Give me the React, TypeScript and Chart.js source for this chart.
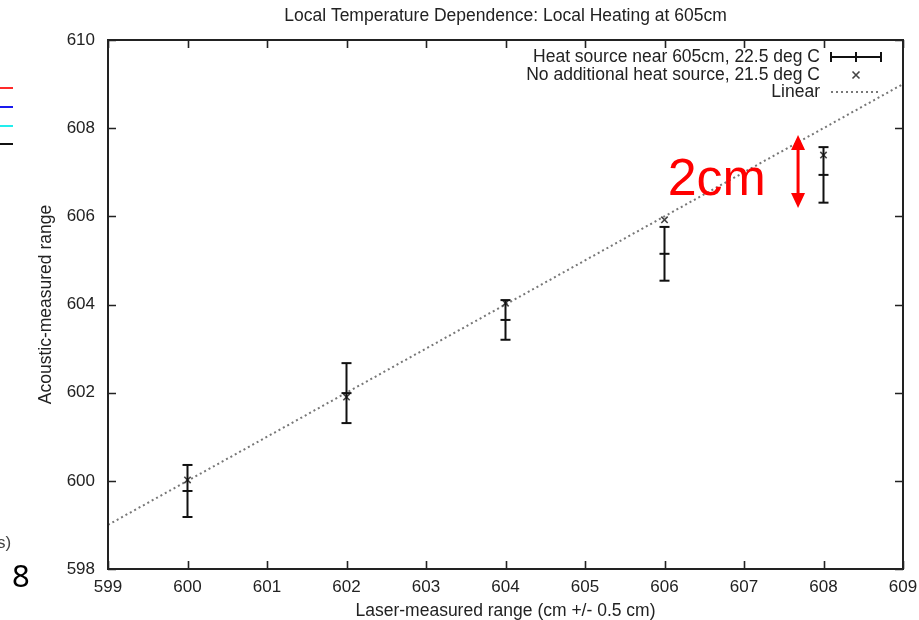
import { useEffect, useRef } from "react";
import { Chart, registerables } from "chart.js";

Chart.register(...registerables);

const chartTitle = "Local Temperature Dependence: Local Heating at 605cm";
const xAxisTitle = "Laser-measured range (cm +/- 0.5 cm)";
const yAxisTitle = "Acoustic-measured range";

const xTicks = [599, 600, 601, 602, 603, 604, 605, 606, 607, 608, 609];
const yTicks = [598, 600, 602, 604, 606, 608, 610];

const positions = [600, 602, 604, 606, 608];
const heatedValues = [599.77, 601.99, 603.65, 605.15, 606.94];
const heatedErrors = [0.59, 0.68, 0.45, 0.61, 0.63];
const ambientValues = [600.02, 601.9, 604.03, 605.92, 607.39];
const linearX = [599, 609];
const linearY = [599, 609];

const legendLabels = [
  "Heat source near 605cm, 22.5 deg C",
  "No additional heat source, 21.5 deg C",
  "Linear",
];

const noteText = "2cm";
const noteTextAt = [606.04, 606.48];
const noteArrowX = 607.68;
const noteArrowRange = [606.19, 607.845];

const FONT = "'Liberation Sans', Arial, Helvetica, sans-serif";
const INK = "#222";

const framePlugin = {
  id: "gnuFrame",
  afterDraw(chart: any) {
    const { ctx, chartArea: a, scales } = chart;
    const x = scales.x;
    const y = scales.y;
    ctx.save();
    // inward ticks
    ctx.strokeStyle = INK;
    ctx.lineWidth = 1.6;
    ctx.beginPath();
    for (const v of xTicks) {
      const px = Math.round(x.getPixelForValue(v)) + 0.5;
      ctx.moveTo(px, a.bottom);
      ctx.lineTo(px, a.bottom - 8);
      ctx.moveTo(px, a.top);
      ctx.lineTo(px, a.top + 8);
    }
    for (const v of yTicks) {
      const py = Math.round(y.getPixelForValue(v)) + 0.5;
      ctx.moveTo(a.left, py);
      ctx.lineTo(a.left + 8, py);
      ctx.moveTo(a.right, py);
      ctx.lineTo(a.right - 8, py);
    }
    ctx.stroke();
    ctx.lineWidth = 2;
    ctx.strokeRect(a.left, a.top, a.right - a.left, a.bottom - a.top);

    // legend (gnuplot style: text right-aligned, sample on the right)
    const ds = chart.data.datasets;
    const textRight = a.right - 83;
    const s0 = a.right - 72;
    const s1 = a.right - 22;
    const sm = (s0 + s1) / 2;
    const rows = [a.top + 17, a.top + 35, a.top + 52];
    ctx.font = `17.5px ${FONT}`;
    ctx.fillStyle = INK;
    ctx.textAlign = "right";
    ctx.textBaseline = "middle";
    legendLabels.forEach((t, i) => ctx.fillText(t, textRight, rows[i]));
    // errorbar sample
    ctx.strokeStyle = ds[0].borderColor;
    ctx.lineWidth = 2;
    ctx.beginPath();
    ctx.moveTo(s0, rows[0]);
    ctx.lineTo(s1, rows[0]);
    for (const sx of [s0, sm, s1]) {
      ctx.moveTo(sx, rows[0] - 5);
      ctx.lineTo(sx, rows[0] + 5);
    }
    ctx.stroke();
    // cross sample
    ctx.strokeStyle = ds[2].borderColor;
    ctx.lineWidth = ds[2].borderWidth;
    const r = 3.5;
    ctx.beginPath();
    ctx.moveTo(sm - r, rows[1] - r);
    ctx.lineTo(sm + r, rows[1] + r);
    ctx.moveTo(sm + r, rows[1] - r);
    ctx.lineTo(sm - r, rows[1] + r);
    ctx.stroke();
    // dotted sample
    ctx.strokeStyle = ds[3].borderColor;
    ctx.lineWidth = ds[3].borderWidth;
    ctx.setLineDash(ds[3].borderDash);
    ctx.beginPath();
    ctx.moveTo(s0, rows[2]);
    ctx.lineTo(s1, rows[2]);
    ctx.stroke();
    ctx.setLineDash([]);

    // red annotation (in data coordinates)
    const ax = x.getPixelForValue(noteArrowX);
    const ayTop = y.getPixelForValue(noteArrowRange[1]);
    const ayBot = y.getPixelForValue(noteArrowRange[0]);
    const head = 15;
    const hw = 7;
    ctx.strokeStyle = "#ff0000";
    ctx.fillStyle = "#ff0000";
    ctx.lineWidth = 3;
    ctx.beginPath();
    ctx.moveTo(ax, ayTop + head - 1);
    ctx.lineTo(ax, ayBot - head + 1);
    ctx.stroke();
    ctx.beginPath();
    ctx.moveTo(ax, ayTop);
    ctx.lineTo(ax - hw, ayTop + head);
    ctx.lineTo(ax + hw, ayTop + head);
    ctx.closePath();
    ctx.fill();
    ctx.beginPath();
    ctx.moveTo(ax, ayBot);
    ctx.lineTo(ax - hw, ayBot - head);
    ctx.lineTo(ax + hw, ayBot - head);
    ctx.closePath();
    ctx.fill();
    ctx.font = `52px ${FONT}`;
    ctx.textAlign = "left";
    ctx.textBaseline = "alphabetic";
    ctx.fillText(noteText, x.getPixelForValue(noteTextAt[0]), y.getPixelForValue(noteTextAt[1]));

    // fragments of neighbouring slide content on the left
    const side = [
      ["#ff2a2a", 88],
      ["#1a1aee", 107],
      ["#22eeee", 126],
      ["#111111", 144],
    ];
    ctx.lineWidth = 2;
    for (const [c, yy] of side) {
      ctx.strokeStyle = c as string;
      ctx.beginPath();
      ctx.moveTo(0, yy as number);
      ctx.lineTo(13, yy as number);
      ctx.stroke();
    }
    ctx.fillStyle = "#444";
    ctx.font = `17px ${FONT}`;
    ctx.textBaseline = "middle";
    ctx.fillText("s)", -3, 543);
    ctx.fillStyle = "#000";
    ctx.font = `31px 'Noto Sans', sans-serif`;
    ctx.textBaseline = "alphabetic";
    ctx.fillText("8", 12, 587);
    ctx.restore();
  },
};

export default function App() {
  const ref = useRef<HTMLCanvasElement | null>(null);

  useEffect(() => {
    if (!ref.current) return;
    const barLines: any[] = [];
    const caps: any[] = [];
    positions.forEach((px, i) => {
      const lo = heatedValues[i] - heatedErrors[i];
      const hi = heatedValues[i] + heatedErrors[i];
      barLines.push({ x: px, y: lo }, { x: px, y: hi }, { x: px, y: null });
      caps.push({ x: px, y: lo }, { x: px, y: hi }, { x: px, y: heatedValues[i] });
    });
    const crosses = positions.map((px, i) => ({ x: px, y: ambientValues[i] }));
    const linear = linearX.map((v, i) => ({ x: v, y: linearY[i] }));

    const chart = new Chart(ref.current, {
      type: "scatter",
      data: {
        datasets: [
          {
            type: "line",
            label: legendLabels[0],
            data: barLines,
            borderColor: "#111",
            borderWidth: 2,
            pointRadius: 0,
            showLine: true,
            spanGaps: false,
          } as any,
          {
            type: "scatter",
            label: "caps",
            data: caps,
            pointStyle: "line",
            pointRadius: 5,
            borderColor: "#111",
            borderWidth: 2,
          } as any,
          {
            type: "scatter",
            label: legendLabels[1],
            data: crosses,
            pointStyle: "crossRot",
            pointRadius: 4.5,
            borderColor: "#444",
            borderWidth: 1.6,
          } as any,
          {
            type: "line",
            label: legendLabels[2],
            data: linear,
            borderColor: "#777",
            borderWidth: 2,
            borderDash: [2, 3],
            pointRadius: 0,
            showLine: true,
          } as any,
        ],
      },
      options: {
        responsive: true,
        maintainAspectRatio: false,
        animation: false,
        devicePixelRatio: 1,
        layout: { padding: { left: 0, right: 16, top: 0, bottom: 0 } },
        plugins: {
          legend: { display: false },
          tooltip: { enabled: false },
          title: {
            display: true,
            text: chartTitle,
            fullSize: false,
            color: INK,
            font: { family: FONT, size: 17.5, weight: "normal" as any, lineHeight: 1.2 },
            padding: { top: 5.5, bottom: 13.5 },
          },
        },
        scales: {
          x: {
            type: "linear",
            min: 599,
            max: 609,
            offset: false,
            afterBuildTicks: (s: any) => {
              s.ticks = xTicks.map((v) => ({ value: v }));
            },
            afterFit: (s: any) => {
              s.height = 51;
              s.paddingLeft = 0;
              s.paddingRight = 0;
            },
            grid: { display: false, drawTicks: false },
            border: { display: false },
            ticks: {
              color: INK,
              padding: 8,
              font: { family: FONT, size: 17 },
              maxRotation: 0,
            },
            title: {
              display: true,
              text: xAxisTitle,
              color: INK,
              font: { family: FONT, size: 17.5, lineHeight: 1 },
              padding: { top: 0, bottom: 0 },
            },
          },
          y: {
            type: "linear",
            min: 598,
            max: 610,
            beginAtZero: false,
            afterBuildTicks: (s: any) => {
              s.ticks = yTicks.map((v) => ({ value: v }));
            },
            afterFit: (s: any) => {
              s.width = 108;
              s.paddingTop = 0;
              s.paddingBottom = 0;
            },
            grid: { display: false, drawTicks: false },
            border: { display: false },
            ticks: {
              color: INK,
              padding: 13,
              font: { family: FONT, size: 17 },
            },
            title: {
              display: true,
              text: yAxisTitle,
              color: INK,
              font: { family: FONT, size: 17.5, lineHeight: 1.2 },
              padding: { top: 36, bottom: 0 },
            },
          },
        },
      },
      plugins: [framePlugin],
    });
    return () => chart.destroy();
  }, []);

  return (
    <div style={{ position: "fixed", left: 0, top: 0, width: 919, height: 620, background: "#fff" }}>
      <canvas ref={ref} />
    </div>
  );
}
